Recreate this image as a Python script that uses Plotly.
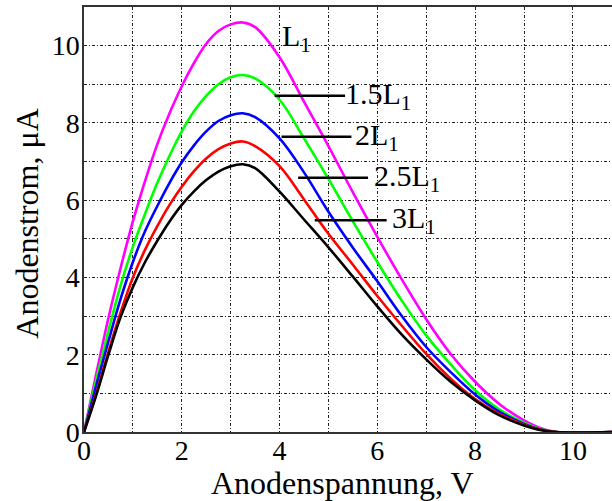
import plotly.graph_objects as go

# Anode voltage grid (V)
x_volts = [0, 0.25, 0.5, 0.75, 1.0, 1.25, 1.5, 1.75, 2.0, 2.25, 2.5, 2.75, 3.0, 3.25, 3.5,
           4.0, 4.5, 5.0, 5.5, 6.0, 6.5, 7.0, 7.5, 8.0, 8.5, 9.0, 9.3, 9.65, 10.8]

# Anode current (uA) for each inductance
i_L1   = [0, 1.50, 2.95, 4.25, 5.45, 6.50, 7.45, 8.25, 8.95, 9.55, 10.05, 10.38, 10.55, 10.60, 10.48,
          9.70, 8.55, 7.40, 6.20, 5.05, 3.95, 2.92, 2.02, 1.30, 0.72, 0.30, 0.12, 0, 0]
i_15L1 = [0, 1.35, 2.62, 3.80, 4.80, 5.65, 6.45, 7.15, 7.78, 8.30, 8.70, 9.00, 9.18, 9.24, 9.15,
          8.60, 7.60, 6.55, 5.45, 4.40, 3.40, 2.50, 1.75, 1.08, 0.58, 0.24, 0.09, 0, 0]
i_2L1  = [0, 1.20, 2.35, 3.45, 4.40, 5.20, 5.85, 6.45, 6.98, 7.42, 7.78, 8.05, 8.20, 8.25, 8.15,
          7.60, 6.72, 5.70, 4.77, 3.90, 3.00, 2.20, 1.55, 0.97, 0.52, 0.21, 0.08, 0, 0]
i_25L1 = [0, 1.00, 2.08, 3.10, 4.00, 4.72, 5.33, 5.88, 6.35, 6.75, 7.08, 7.32, 7.47, 7.52, 7.40,
          6.88, 6.02, 5.13, 4.33, 3.52, 2.75, 2.02, 1.38, 0.85, 0.46, 0.19, 0.07, 0, 0]
i_3L1  = [0, 0.95, 2.00, 2.98, 3.75, 4.40, 4.95, 5.45, 5.88, 6.23, 6.52, 6.74, 6.88, 6.93, 6.83,
          6.22, 5.50, 4.78, 4.02, 3.25, 2.52, 1.88, 1.30, 0.82, 0.43, 0.17, 0.06, 0, 0]

series = [
    ("L1", i_L1, "#ff00ff"),
    ("1.5L1", i_15L1, "#00ff00"),
    ("2L1", i_2L1, "#0000ff"),
    ("2.5L1", i_25L1, "#ff0000"),
    ("3L1", i_3L1, "#000000"),
]

x_ticks = [0, 2, 4, 6, 8, 10]
y_ticks = [0, 2, 4, 6, 8, 10]

FONT = "Liberation Serif, Times New Roman, serif"

fig = go.Figure()
for name, ys, col in series:
    fig.add_trace(go.Scatter(x=x_volts, y=ys, mode="lines", name=name,
                             line=dict(color=col, width=2.6, shape="spline", smoothing=1.0),
                             showlegend=False, hoverinfo="skip"))

# Label leader lines and texts
labels = [
    # text, line x0, line x1, y, text x
    ("1.5L<sub>1</sub>", 3.90, 5.34, 8.70, 5.30),
    ("2L<sub>1</sub>",   4.04, 5.47, 7.64, 5.50),
    ("2.5L<sub>1</sub>", 4.38, 5.81, 6.58, 5.90),
    ("3L<sub>1</sub>",   4.72, 6.19, 5.48, 6.26),
]
for txt, x0, x1, yy, xt in labels:
    fig.add_shape(type="line", x0=x0, x1=x1, y0=yy, y1=yy, xref="x", yref="y",
                  line=dict(color="black", width=2.5))
    fig.add_annotation(x=xt, y=yy, text=txt, showarrow=False, xanchor="left", yanchor="middle",
                       font=dict(family=FONT, size=30, color="black"))
fig.add_annotation(x=4.0, y=10.2, text="L<sub>1</sub>", showarrow=False, xanchor="left",
                   yanchor="middle", font=dict(family=FONT, size=30, color="black"))

# Axis titles
fig.add_annotation(x=0.489, y=-0.12, xref="paper", yref="paper", text="Anodenspannung, V",
                   showarrow=False, xanchor="center", yanchor="middle",
                   font=dict(family=FONT, size=32, color="black"))
fig.add_annotation(x=-0.108, y=0.49, xref="paper", yref="paper", text="Anodenstrom, μA",
                   showarrow=False, xanchor="center", yanchor="middle", textangle=-90,
                   font=dict(family=FONT, size=32, color="black"))

grid = dict(gridcolor="#222222", gridwidth=1, griddash="3px,2px,1px,2px")

fig.update_layout(
    width=612, height=501,
    margin=dict(l=84, r=0, t=7, b=69),
    paper_bgcolor="white", plot_bgcolor="white",
    font=dict(family=FONT, size=28, color="black"),
    xaxis=dict(range=[0, 10.8], tickvals=x_ticks, showgrid=True, **grid,
               minor=dict(dtick=1, tick0=0, showgrid=True, **grid),
               showline=True, linecolor="#333333", linewidth=1.5, mirror=True,
               ticks="", ticklen=0, zeroline=False, automargin=False,
               ticklabelstandoff=-7,
               tickfont=dict(family=FONT, size=28)),
    yaxis=dict(range=[0, 11], tickvals=y_ticks, showgrid=True, **grid,
               minor=dict(dtick=1, tick0=0, showgrid=True, **grid),
               showline=True, linecolor="#333333", linewidth=1.5,
               ticks="", ticklen=0, zeroline=False, automargin=False,
               ticklabelstandoff=-3,
               tickfont=dict(family=FONT, size=28)),
)

fig.write_html("out.html", config={"displayModeBar": False},
               post_script="document.body.style.margin='0';document.body.style.overflow='hidden';")
